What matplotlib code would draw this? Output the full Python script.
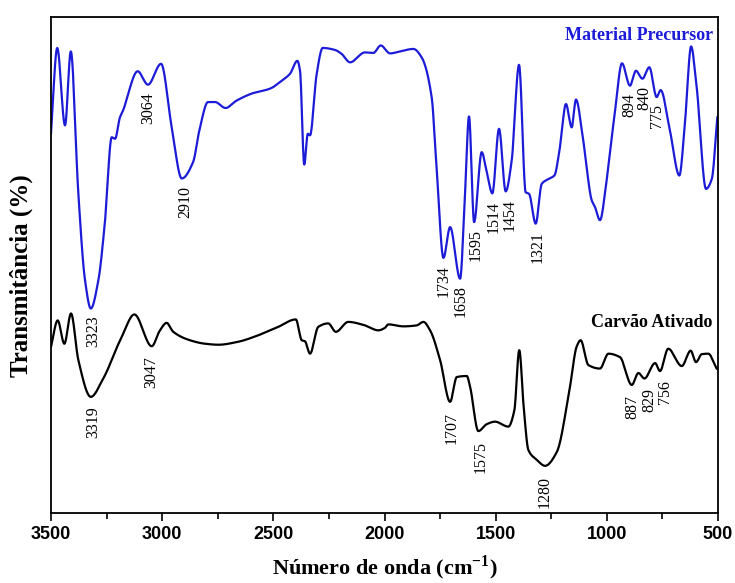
import numpy as np
import matplotlib
matplotlib.use('Agg')
import matplotlib.pyplot as plt
from matplotlib.ticker import MultipleLocator

# Material precursor spectrum (wavenumber, transmittance in arbitrary %)
wn_prec = [3500, 3472, 3437, 3411, 3377, 3347, 3321, 3287, 3257, 3227, 3212, 3190,
           3176, 3110, 3064, 3005, 2957, 2912, 2861, 2830, 2794, 2762, 2715, 2665,
           2591, 2515, 2456, 2425, 2392, 2380, 2361, 2345, 2335, 2305, 2278, 2223,
           2193, 2155, 2088, 2050, 2017, 1975, 1930, 1870, 1833, 1788, 1765, 1735,
           1705, 1660, 1638, 1620, 1597, 1563, 1540, 1515, 1485, 1455, 1428, 1395,
           1365, 1350, 1320, 1293, 1263, 1236, 1211, 1184, 1158, 1139, 1106, 1068,
           1053, 1031, 1001, 963, 932, 896, 869, 840, 809, 776, 758, 716, 674, 648,
           621, 596, 554, 528, 503]
t_prec = [76.5, 93.7, 78.1, 93.0, 64.3, 46.9, 41.2, 46.9, 58.9, 75.7, 75.4, 79.7,
          81.1, 89.0, 86.3, 90.5, 77.7, 67.4, 70.7, 77.7, 82.8, 82.8, 81.6, 83.1,
          84.6, 85.5, 87.3, 88.5, 91.1, 89.1, 70.2, 76.4, 76.1, 88.5, 93.7, 93.3,
          92.5, 90.8, 92.8, 92.7, 94.2, 92.6, 93.0, 93.5, 91.8, 83.8, 69.0, 51.4,
          57.6, 47.2, 64.3, 79.9, 58.6, 72.7, 68.7, 64.4, 77.4, 64.8, 71.0, 90.3,
          64.6, 64.3, 58.3, 66.3, 67.3, 68.0, 73.7, 82.4, 77.7, 83.3, 75.0, 63.0,
          61.6, 59.0, 67.0, 81.1, 90.6, 86.1, 89.1, 87.5, 89.8, 83.8, 85.2, 77.0,
          68.0, 79.1, 94.0, 85.8, 65.3, 67.3, 79.7]

# Activated carbon spectrum
wn_carv = [3500, 3470, 3440, 3410, 3377, 3321, 3265, 3182, 3125, 3047, 3010, 2980,
           2950, 2875, 2807, 2747, 2658, 2568, 2478, 2399, 2372, 2358, 2335, 2298,
           2253, 2219, 2163, 2088, 2028, 1998, 1983, 1915, 1855, 1825, 1795, 1750,
           1705, 1675, 1630, 1615, 1578, 1540, 1503, 1443, 1416, 1394, 1373, 1353,
           1315, 1278, 1225, 1166, 1136, 1118, 1083, 1031, 993, 941, 888, 858, 831,
           783, 761, 724, 663, 623, 599, 573, 544, 506]
t_carv = [33.5, 38.8, 34.1, 40.2, 30.8, 23.4, 27.1, 35.5, 40.0, 33.6, 36.8, 38.3,
          36.5, 34.8, 34.1, 33.9, 34.5, 35.8, 37.5, 39.0, 34.8, 34.6, 32.1, 37.5,
          38.2, 36.5, 38.5, 37.8, 36.8, 37.3, 38.0, 37.6, 37.8, 38.5, 36.8, 30.8,
          22.4, 27.4, 27.6, 25.4, 16.5, 17.9, 18.4, 17.4, 20.7, 32.8, 20.7, 12.7,
          10.7, 9.5, 12.3, 25.4, 33.5, 34.8, 29.8, 29.1, 32.1, 31.4, 25.8, 28.2,
          27.1, 30.2, 28.6, 33.1, 29.6, 32.7, 30.4, 32.0, 32.1, 29.1]

# band labels
bands_prec = [3323, 3064, 2910, 1734, 1658, 1595, 1514, 1454, 1321, 894, 840, 775]
bands_carv = [3319, 3047, 1707, 1575, 1280, 887, 829, 756]

# horizontal nudges (cm-1) for crowded labels
nudge = {1514: 5, 1454: 17, 894: -6, 840: 7, 829: 19, 756: 18, 2910: 15,
         1595: 7, 1321: 10, 1707: 10, 1575: 9, 3323: 12, 3319: 10}

blue = '#1c1cd8'
serif = 'Liberation Serif'


def pchip(xs, ys, xn):
    # monotone cubic interpolation so the trace looks like a smooth spectrum
    x = np.asarray(xs, float)[::-1]
    y = np.asarray(ys, float)[::-1]
    h = np.diff(x)
    dl = np.diff(y) / h
    d = np.zeros_like(y)
    for k in range(1, len(x) - 1):
        if dl[k - 1] * dl[k] > 0:
            w1 = 2 * h[k] + h[k - 1]
            w2 = h[k] + 2 * h[k - 1]
            d[k] = (w1 + w2) / (w1 / dl[k - 1] + w2 / dl[k])
    d[0] = dl[0]
    d[-1] = dl[-1]
    i = np.clip(np.searchsorted(x, xn) - 1, 0, len(x) - 2)
    t = (xn - x[i]) / h[i]
    h00 = 2 * t**3 - 3 * t**2 + 1
    h10 = t**3 - 2 * t**2 + t
    h01 = -2 * t**3 + 3 * t**2
    h11 = t**3 - t**2
    return h00 * y[i] + h10 * h[i] * d[i] + h01 * y[i + 1] + h11 * h[i] * d[i + 1]


fig = plt.figure(figsize=(7.35, 5.83), dpi=100)
ax = fig.add_axes([0.0694, 0.1201, 0.9075, 0.8513])

xp = np.linspace(min(wn_prec), max(wn_prec), 2000)
xc = np.linspace(min(wn_carv), max(wn_carv), 2000)
ax.plot(xp, pchip(wn_prec, t_prec, xp), color=blue, lw=1.6)
ax.plot(xc, pchip(wn_carv, t_carv, xc), color='black', lw=1.6)

for b in bands_prec:
    y = pchip(wn_prec, t_prec, np.array([b]))[0]
    ax.text(b - nudge.get(b, 0), y - 1.5, str(b), rotation=90, ha='center',
            va='top', family=serif, fontsize=11.5)
for b in bands_carv:
    y = pchip(wn_carv, t_carv, np.array([b]))[0]
    ax.text(b - nudge.get(b, 0), y - 2.0, str(b), rotation=90, ha='center',
            va='top', family=serif, fontsize=11.5)

ax.text(0.992, 0.963, 'Material Precursor', transform=ax.transAxes, ha='right',
        va='center', color=blue, family=serif, fontweight='bold', fontsize=13)
ax.text(0.992, 0.383, 'Carvão Ativado', transform=ax.transAxes, ha='right',
        va='center', color='black', family=serif, fontweight='bold', fontsize=13)

ax.set_xlim(3500, 500)
ax.set_ylim(0, 100)
ax.xaxis.set_major_locator(MultipleLocator(500))
ax.xaxis.set_minor_locator(MultipleLocator(250))
ax.tick_params(axis='x', which='major', direction='out', length=6, width=1.2)
ax.tick_params(axis='x', which='minor', direction='out', length=4, width=1.2)
ax.set_yticks([])
for lab in ax.get_xticklabels():
    lab.set_family('Liberation Sans')
    lab.set_fontweight('bold')
    lab.set_fontsize(13)
for s in ax.spines.values():
    s.set_linewidth(1.3)

ax.set_xlabel('Número de onda (cm$^{\\mathregular{-1}}$)', family=serif,
              fontweight='bold', fontsize=16, labelpad=7)
ax.set_ylabel('Transmitância (%)', family=serif, fontweight='bold',
              fontsize=18)
ax.yaxis.set_label_coords(-0.027, 0.478)

fig.savefig('out.png', dpi=100)
